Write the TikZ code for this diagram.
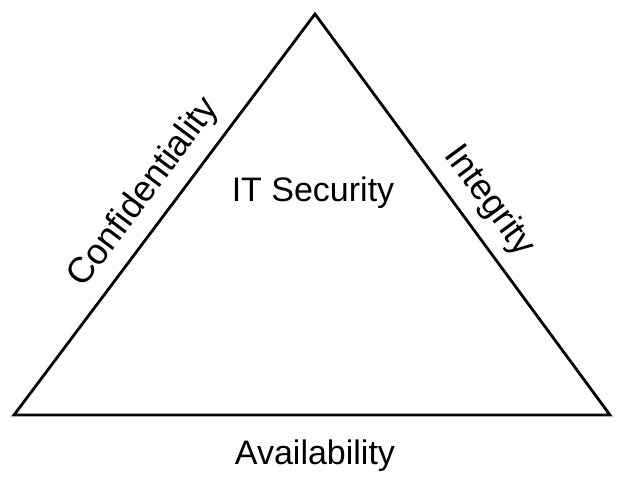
\documentclass[tikz,border=0pt]{standalone}
\usepackage{fontspec}
\setmainfont{Liberation Sans}
\usetikzlibrary{calc}
\begin{document}
\begin{tikzpicture}[x=1pt,y=1pt,
  edge/.style={line width=2.8pt, line join=miter},
  lbl/.style={font=\fontsize{34}{40}\selectfont, inner sep=0pt},
  sidelbl/.style={font=\fontsize{36}{42}\selectfont, inner sep=0pt, anchor=base}]
\useasboundingbox (0,0) rectangle (625,481);
\coordinate (T) at (315,467);
\coordinate (L) at (14,66);
\coordinate (R) at (610,66);
\draw[edge] (T) -- (L) -- (R) -- cycle;
\node[sidelbl, rotate=53.1] (conf) at ($($(L)!0.51!(T)$)!20pt!90:(T)$) {Confidentiality};
\node[sidelbl, rotate=-53.6] (integ) at ($($(T)!0.51!(R)$)!20pt!90:(R)$) {Integrity};
\node[lbl, anchor=base] (its) at (313,279) {IT Security};
\node[lbl, anchor=base] (avail) at (315,16) {Availability};
\end{tikzpicture}
\end{document}
